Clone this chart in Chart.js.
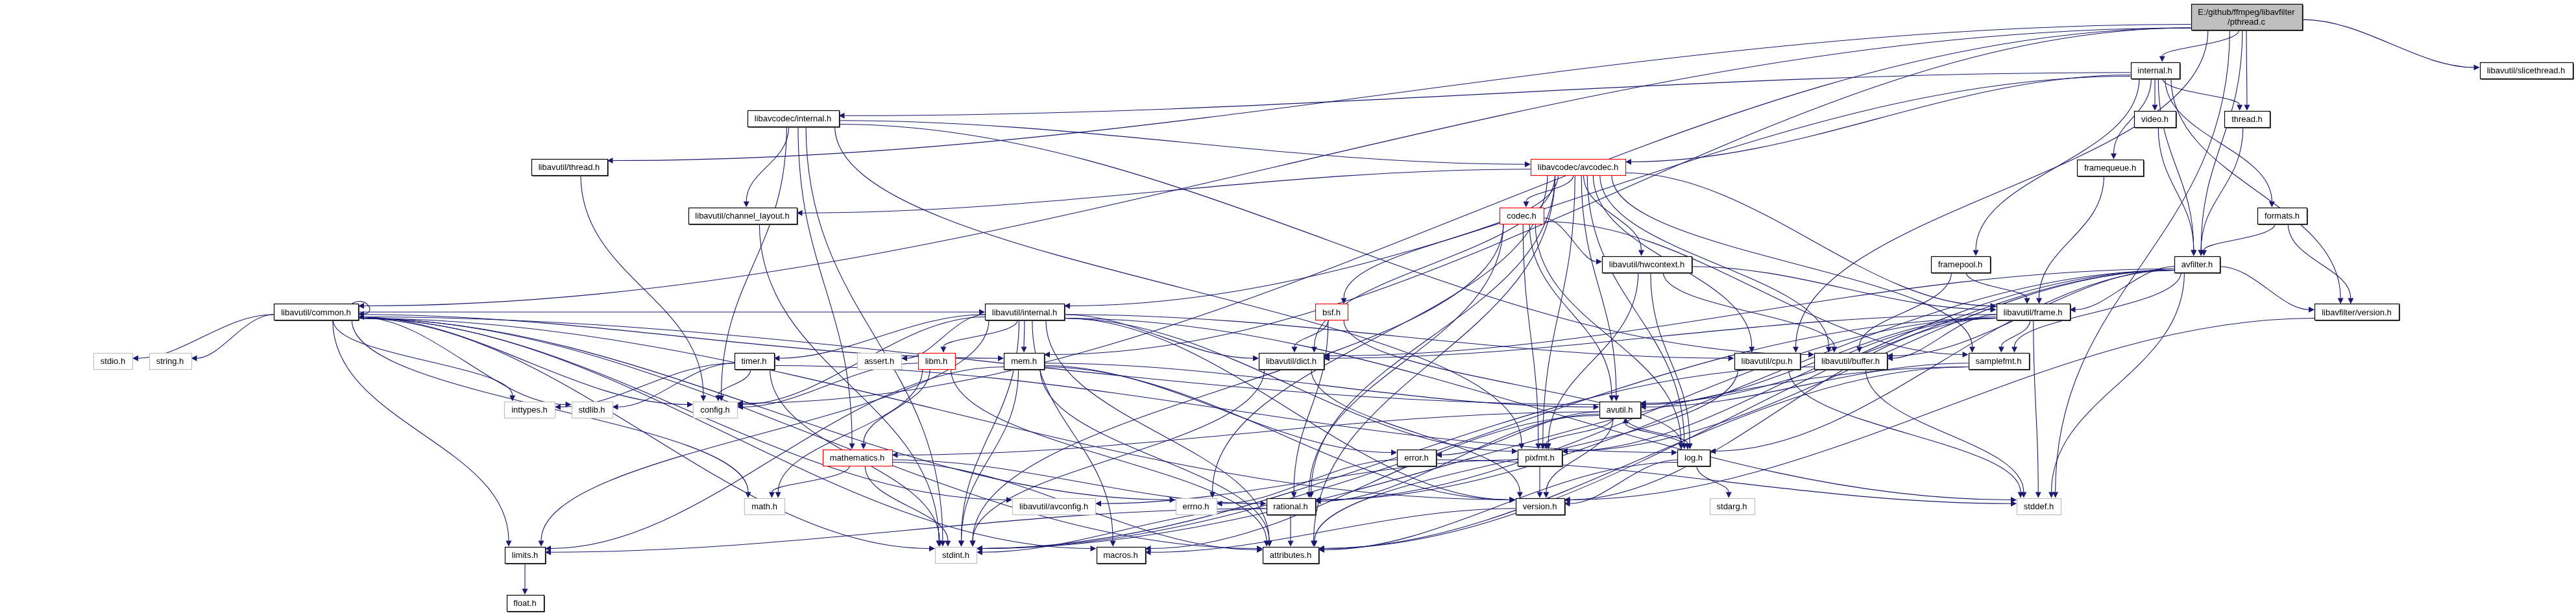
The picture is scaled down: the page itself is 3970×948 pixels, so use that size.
<!DOCTYPE html>
<html>
<head>
<meta charset="utf-8">
<title>pthread.c include graph</title>
<script src="https://cdn.jsdelivr.net/npm/chart.js@4.4.1/dist/chart.umd.min.js"></script>
<style>
    html, body { margin: 0; padding: 0; background: #ffffff; overflow: hidden; }
    #wrap { width: 3970px; height: 948px; }
</style>
</head>
<body>
<div id="wrap"><canvas id="kt_include_graph" width="3970" height="948"></canvas></div>
<script>
"use strict";

// Nodes of the include graph (x / y are the graph coordinates of each header)
var mainFile = 'E:/github/ffmpeg/libavfilter/pthread.c';

var nodeNames = [
    mainFile, 'internal.h', 'libavutil/slicethread.h', 'libavcodec/internal.h', 'video.h', 'thread.h',
    'libavutil/thread.h', 'libavcodec/avcodec.h', 'framequeue.h', 'libavutil/channel_layout.h', 'codec.h',
    'formats.h', 'avfilter.h', 'framepool.h', 'libavutil/hwcontext.h', 'libavutil/common.h',
    'libavutil/internal.h', 'bsf.h', 'libavutil/frame.h', 'libavfilter/version.h', 'stdio.h', 'string.h',
    'timer.h', 'assert.h', 'libm.h', 'mem.h', 'libavutil/dict.h', 'libavutil/cpu.h', 'libavutil/buffer.h',
    'samplefmt.h', 'inttypes.h', 'stdlib.h', 'config.h', 'avutil.h', 'mathematics.h', 'error.h', 'pixfmt.h',
    'log.h', 'math.h', 'libavutil/avconfig.h', 'errno.h', 'rational.h', 'version.h', 'stdarg.h', 'stddef.h',
    'limits.h', 'stdint.h', 'macros.h', 'attributes.h', 'float.h'
];

var nodeX = [
    3462, 3321, 3893, 1222, 3321, 3463,
    877, 2432, 3252, 1144, 2345,
    3517, 3386, 3021, 2538, 487,
    1579, 2052, 3133, 3632, 174, 262,
    1162, 1355, 1443, 1578, 1990, 2723, 2852,
    3080, 816, 912, 1102, 2496, 1321, 2183, 2373,
    2610, 1178, 1624, 1843, 1989, 2373, 2669, 3142,
    809, 1473, 1727, 1989, 809
];

var nodeY = [
    26, 108, 108, 182, 183, 183,
    257, 257, 258, 332, 332,
    332, 407, 407, 407, 481,
    481, 481, 481, 481, 556, 556,
    556, 556, 556, 556, 556, 556, 556,
    556, 631, 631, 631, 631, 705, 705, 705,
    705, 780, 780, 780, 780, 780, 780, 780,
    855, 855, 855, 855, 929
];

// Headers that were not found (grey frame) and graphs that were truncated (red frame)
var missingHeaders = ['stdio.h', 'string.h', 'assert.h', 'inttypes.h', 'stdlib.h', 'config.h', 'math.h',
    'libavutil/avconfig.h', 'errno.h', 'stdarg.h', 'stddef.h', 'stdint.h'];
var truncatedHeaders = ['libavcodec/avcodec.h', 'codec.h', 'bsf.h', 'libm.h', 'mathematics.h'];

// Include relations: [file, included file]
var includes = [
    [mainFile, 'internal.h'], [mainFile, 'thread.h'], [mainFile, 'avfilter.h'], [mainFile, 'libavutil/slicethread.h'],
    [mainFile, 'libavutil/thread.h'], [mainFile, 'libavutil/common.h'], [mainFile, 'config.h'],
    [mainFile, 'libavutil/cpu.h'], [mainFile, 'mem.h'], [mainFile, 'stddef.h'],

    ['internal.h', 'libavutil/internal.h'], ['internal.h', 'avfilter.h'], ['internal.h', 'formats.h'],
    ['internal.h', 'framepool.h'], ['internal.h', 'framequeue.h'], ['internal.h', 'thread.h'],
    ['internal.h', 'libavfilter/version.h'], ['internal.h', 'video.h'], ['internal.h', 'libavcodec/avcodec.h'],
    ['internal.h', 'libavcodec/internal.h'],

    ['video.h', 'avfilter.h'], ['thread.h', 'avfilter.h'], ['framequeue.h', 'libavutil/frame.h'],
    ['formats.h', 'avfilter.h'], ['formats.h', 'libavfilter/version.h'],
    ['framepool.h', 'libavutil/buffer.h'], ['framepool.h', 'libavutil/frame.h'],

    ['avfilter.h', 'stddef.h'], ['avfilter.h', 'attributes.h'], ['avfilter.h', 'avutil.h'],
    ['avfilter.h', 'libavutil/buffer.h'], ['avfilter.h', 'libavutil/dict.h'], ['avfilter.h', 'libavutil/frame.h'],
    ['avfilter.h', 'log.h'], ['avfilter.h', 'samplefmt.h'], ['avfilter.h', 'pixfmt.h'],
    ['avfilter.h', 'rational.h'], ['avfilter.h', 'libavfilter/version.h'],

    ['libavutil/frame.h', 'stddef.h'], ['libavutil/frame.h', 'stdint.h'], ['libavutil/frame.h', 'avutil.h'],
    ['libavutil/frame.h', 'libavutil/buffer.h'], ['libavutil/frame.h', 'libavutil/dict.h'],
    ['libavutil/frame.h', 'rational.h'], ['libavutil/frame.h', 'samplefmt.h'], ['libavutil/frame.h', 'pixfmt.h'],
    ['libavutil/frame.h', 'version.h'],

    ['samplefmt.h', 'stdint.h'], ['samplefmt.h', 'avutil.h'], ['samplefmt.h', 'attributes.h'],
    ['libavfilter/version.h', 'version.h'],

    ['libavcodec/avcodec.h', 'errno.h'], ['libavcodec/avcodec.h', 'samplefmt.h'],
    ['libavcodec/avcodec.h', 'attributes.h'], ['libavcodec/avcodec.h', 'avutil.h'],
    ['libavcodec/avcodec.h', 'libavutil/buffer.h'], ['libavcodec/avcodec.h', 'libavutil/cpu.h'],
    ['libavcodec/avcodec.h', 'libavutil/channel_layout.h'], ['libavcodec/avcodec.h', 'libavutil/dict.h'],
    ['libavcodec/avcodec.h', 'libavutil/frame.h'], ['libavcodec/avcodec.h', 'libavutil/hwcontext.h'],
    ['libavcodec/avcodec.h', 'log.h'], ['libavcodec/avcodec.h', 'pixfmt.h'], ['libavcodec/avcodec.h', 'rational.h'],
    ['libavcodec/avcodec.h', 'bsf.h'], ['libavcodec/avcodec.h', 'codec.h'],

    ['codec.h', 'stdint.h'], ['codec.h', 'avutil.h'], ['codec.h', 'libavutil/hwcontext.h'], ['codec.h', 'log.h'],
    ['codec.h', 'pixfmt.h'], ['codec.h', 'rational.h'], ['codec.h', 'samplefmt.h'],
    ['bsf.h', 'libavutil/dict.h'], ['bsf.h', 'log.h'], ['bsf.h', 'rational.h'],
    ['libavutil/hwcontext.h', 'libavutil/buffer.h'], ['libavutil/hwcontext.h', 'libavutil/frame.h'],
    ['libavutil/hwcontext.h', 'log.h'], ['libavutil/hwcontext.h', 'pixfmt.h'],

    ['libavcodec/internal.h', 'stdint.h'], ['libavcodec/internal.h', 'libavutil/buffer.h'],
    ['libavcodec/internal.h', 'libavutil/channel_layout.h'], ['libavcodec/internal.h', 'mathematics.h'],
    ['libavcodec/internal.h', 'pixfmt.h'], ['libavcodec/internal.h', 'libavcodec/avcodec.h'],
    ['libavcodec/internal.h', 'config.h'],
    ['libavutil/thread.h', 'config.h'], ['libavutil/channel_layout.h', 'stdint.h'],

    ['libavutil/internal.h', 'limits.h'], ['libavutil/internal.h', 'stdint.h'], ['libavutil/internal.h', 'stddef.h'],
    ['libavutil/internal.h', 'assert.h'], ['libavutil/internal.h', 'config.h'], ['libavutil/internal.h', 'attributes.h'],
    ['libavutil/internal.h', 'timer.h'], ['libavutil/internal.h', 'libavutil/cpu.h'],
    ['libavutil/internal.h', 'libavutil/dict.h'], ['libavutil/internal.h', 'macros.h'], ['libavutil/internal.h', 'mem.h'],
    ['libavutil/internal.h', 'pixfmt.h'], ['libavutil/internal.h', 'version.h'], ['libavutil/internal.h', 'libm.h'],

    ['libavutil/common.h', 'errno.h'], ['libavutil/common.h', 'inttypes.h'], ['libavutil/common.h', 'limits.h'],
    ['libavutil/common.h', 'math.h'], ['libavutil/common.h', 'stdint.h'], ['libavutil/common.h', 'stdio.h'],
    ['libavutil/common.h', 'stdlib.h'], ['libavutil/common.h', 'string.h'], ['libavutil/common.h', 'attributes.h'],
    ['libavutil/common.h', 'macros.h'], ['libavutil/common.h', 'version.h'], ['libavutil/common.h', 'libavutil/avconfig.h'],
    ['libavutil/common.h', 'config.h'], ['libavutil/common.h', 'mem.h'], ['libavutil/common.h', 'libavutil/internal.h'],
    ['libavutil/common.h', 'libavutil/common.h'],

    ['timer.h', 'config.h'], ['timer.h', 'stdlib.h'], ['timer.h', 'stdint.h'], ['timer.h', 'inttypes.h'], ['timer.h', 'log.h'],
    ['libm.h', 'math.h'], ['libm.h', 'config.h'], ['libm.h', 'attributes.h'], ['libm.h', 'mathematics.h'],
    ['mem.h', 'limits.h'], ['mem.h', 'stdint.h'], ['mem.h', 'attributes.h'], ['mem.h', 'error.h'],
    ['mem.h', 'avutil.h'], ['mem.h', 'version.h'],
    ['libavutil/dict.h', 'stdint.h'], ['libavutil/dict.h', 'version.h'],
    ['libavutil/cpu.h', 'stddef.h'], ['libavutil/cpu.h', 'attributes.h'],
    ['libavutil/buffer.h', 'stdint.h'], ['libavutil/buffer.h', 'stddef.h'],

    ['avutil.h', 'libavutil/common.h'], ['avutil.h', 'error.h'], ['avutil.h', 'version.h'], ['avutil.h', 'rational.h'],
    ['avutil.h', 'mathematics.h'], ['avutil.h', 'log.h'], ['avutil.h', 'pixfmt.h'], ['avutil.h', 'macros.h'],
    ['log.h', 'stdarg.h'], ['log.h', 'avutil.h'], ['log.h', 'attributes.h'], ['log.h', 'version.h'],
    ['error.h', 'errno.h'], ['error.h', 'stddef.h'],
    ['pixfmt.h', 'libavutil/avconfig.h'], ['pixfmt.h', 'version.h'],
    ['version.h', 'macros.h'],
    ['rational.h', 'stdint.h'], ['rational.h', 'limits.h'], ['rational.h', 'attributes.h'],
    ['mathematics.h', 'stdint.h'], ['mathematics.h', 'math.h'], ['mathematics.h', 'attributes.h'],
    ['mathematics.h', 'rational.h'],
    ['limits.h', 'float.h']
];

// Styles
var edgeColor = '#191970';
var fontFamily = '"Liberation Sans", Arial, Helvetica, sans-serif';
var fontSize = 13;

var clamp = function (v, lo, hi) {
    return Math.max(lo, Math.min(hi, v));
};

var labelLines = function (name) {
    if (name.length > 30) {
        var cut = name.lastIndexOf('/');
        return [name.slice(0, cut), name.slice(cut)];
    }
    return [name];
};

// Box of a node in canvas pixels, placed through the chart scales
var nodeBox = function (chart, i) {
    var ctx = chart.ctx;
    var xs = chart.scales.x, ys = chart.scales.y;
    var lines = labelLines(nodeNames[i]);
    ctx.font = fontSize + 'px ' + fontFamily;
    var tw = 0;
    lines.forEach(function (l) { tw = Math.max(tw, ctx.measureText(l).width); });
    return {
        cx: xs.getPixelForValue(nodeX[i]),
        cy: ys.getPixelForValue(nodeY[i]),
        w: Math.round(tw + 22),
        h: lines.length === 1 ? 25 : 40,
        lines: lines
    };
};

var drawArrow = function (ctx, tip, from) {
    var dx = tip.x - from.x, dy = tip.y - from.y;
    var len = Math.sqrt(dx * dx + dy * dy) || 1;
    var ux = dx / len, uy = dy / len;
    var L = 9, W = 4.5;
    var bx = tip.x - ux * L, by = tip.y - uy * L;
    ctx.beginPath();
    ctx.moveTo(tip.x, tip.y);
    ctx.lineTo(bx - uy * W, by + ux * W);
    ctx.lineTo(bx + uy * W, by - ux * W);
    ctx.closePath();
    ctx.fill();
    return { x: bx, y: by };
};

var drawEdge = function (ctx, a, b) {
    var dx = b.cx - a.cx, dy = b.cy - a.cy;
    var p0, p3, c1, c2;
    if (Math.abs(dx) > 2.5 * Math.abs(dy)) {
        var sx = dx > 0 ? 1 : -1;
        p0 = { x: a.cx + sx * a.w / 2, y: a.cy + clamp(dy * 0.05, -a.h / 2 + 3, a.h / 2 - 3) };
        p3 = { x: b.cx - sx * b.w / 2, y: b.cy + clamp(-dy * 0.05, -b.h / 2 + 3, b.h / 2 - 3) };
        var k = Math.abs(p3.x - p0.x) * 0.35;
        c1 = { x: p0.x + sx * k, y: p0.y };
        c2 = { x: p3.x - sx * k, y: p3.y };
    } else {
        var sy = dy > 0 ? 1 : -1;
        p0 = { x: a.cx + clamp(dx * 0.08, -(a.w / 2 - 6), a.w / 2 - 6), y: a.cy + sy * a.h / 2 };
        p3 = { x: b.cx + clamp(-dx * 0.08, -(b.w / 2 - 6), b.w / 2 - 6), y: b.cy - sy * b.h / 2 };
        var m = Math.abs(p3.y - p0.y) * 0.45;
        c1 = { x: p0.x, y: p0.y + sy * m };
        c2 = { x: p3.x, y: p3.y - sy * m };
    }
    var back = drawArrow(ctx, p3, c2);
    ctx.beginPath();
    ctx.moveTo(p0.x, p0.y);
    ctx.bezierCurveTo(c1.x, c1.y, c2.x, c2.y, back.x, back.y);
    ctx.stroke();
};

var drawSelfLoop = function (ctx, a) {
    var x = a.cx + a.w / 2;
    var top = { x: x - 10, y: a.cy - a.h / 2 };
    var tip = { x: x, y: a.cy + 3 };
    var back = { x: x + 9, y: a.cy + 3 };
    drawArrow(ctx, tip, back);
    ctx.beginPath();
    ctx.moveTo(top.x, top.y);
    ctx.bezierCurveTo(x + 10, top.y - 14, x + 30, a.cy, back.x, back.y);
    ctx.stroke();
};

var graphPlugin = {
    id: 'includeGraph',
    beforeDraw: function (chart) {
        var ctx = chart.ctx;
        ctx.save();
        ctx.fillStyle = '#ffffff';
        ctx.fillRect(0, 0, chart.width, chart.height);
        ctx.restore();
    },
    beforeDatasetsDraw: function (chart) {
        var ctx = chart.ctx;
        ctx.save();
        ctx.strokeStyle = edgeColor;
        ctx.fillStyle = edgeColor;
        ctx.lineWidth = 1.1;
        includes.forEach(function (e) {
            var i = nodeNames.indexOf(e[0]), j = nodeNames.indexOf(e[1]);
            if (i < 0 || j < 0) return;
            if (i === j) {
                drawSelfLoop(ctx, nodeBox(chart, i));
            } else {
                drawEdge(ctx, nodeBox(chart, i), nodeBox(chart, j));
            }
        });
        ctx.restore();
    },
    afterDatasetsDraw: function (chart) {
        var ctx = chart.ctx;
        ctx.save();
        nodeNames.forEach(function (name, i) {
            var b = nodeBox(chart, i);
            var x0 = Math.round(b.cx - b.w / 2) + 0.5, y0 = Math.round(b.cy - b.h / 2) + 0.5;
            var border = '#000000';
            if (missingHeaders.indexOf(name) >= 0) border = '#bfbfbf';
            if (truncatedHeaders.indexOf(name) >= 0) border = '#ff0000';
            ctx.fillStyle = i === 0 ? '#bfbfbf' : '#ffffff';
            ctx.fillRect(x0, y0, b.w, b.h);
            // small shadow under the frame
            if (border === '#000000') {
                ctx.fillStyle = '#555555';
                ctx.fillRect(x0 + 1, y0 + b.h, b.w, 1.5);
                ctx.fillRect(x0 + b.w, y0 + 1, 1.5, b.h);
            }
            ctx.strokeStyle = border;
            ctx.lineWidth = 1.2;
            ctx.strokeRect(x0, y0, b.w, b.h);
            ctx.fillStyle = '#000000';
            ctx.font = fontSize + 'px ' + fontFamily;
            ctx.textAlign = 'center';
            ctx.textBaseline = 'middle';
            b.lines.forEach(function (l, k) {
                ctx.fillText(l, b.cx, b.cy + (k - (b.lines.length - 1) / 2) * 15 + 1);
            });
        });
        ctx.restore();
    }
};

var initGraph = function () {
    var canvas = document.getElementById('kt_include_graph');
    if (!canvas) return;

    var points = nodeNames.map(function (n, i) {
        return { x: nodeX[i], y: nodeY[i] };
    });

    new Chart(canvas.getContext('2d'), {
        type: 'scatter',
        data: {
            datasets: [{
                label: 'headers',
                data: points,
                pointRadius: 0,
                pointHoverRadius: 0
            }]
        },
        options: {
            responsive: false,
            maintainAspectRatio: false,
            devicePixelRatio: 1,
            animation: false,
            layout: { padding: 0 },
            scales: {
                x: { type: 'linear', min: 0, max: 3970, display: false },
                y: { type: 'linear', min: 0, max: 948, reverse: true, display: false }
            },
            plugins: {
                legend: { display: false },
                tooltip: { enabled: false }
            },
            events: []
        },
        plugins: [graphPlugin]
    });
};

document.addEventListener('DOMContentLoaded', initGraph);
</script>
</body>
</html>
